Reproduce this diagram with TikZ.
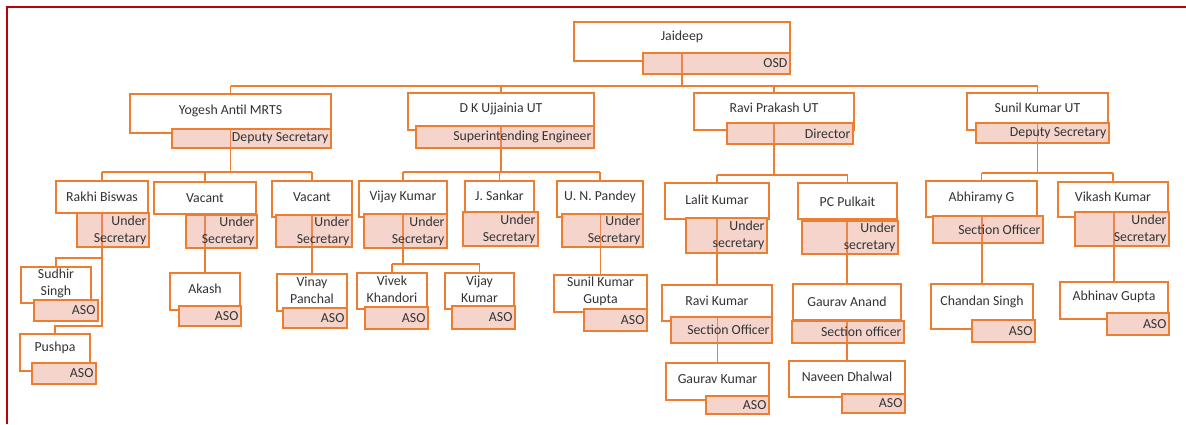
\documentclass[tikz,border=0pt]{standalone}
\usepackage{fontspec}
\setmainfont{Carlito}
\usetikzlibrary{fit,calc}
\definecolor{orgline}{HTML}{ED7D31}
\definecolor{orgfill}{HTML}{E8957D}
\definecolor{orgtext}{HTML}{333333}
\definecolor{frameline}{HTML}{C00000}
\pgfdeclarelayer{links}
\pgfdeclarelayer{over}
\pgfsetlayers{main,links,over}
\tikzset{
  namebox/.style={draw=orgline, fill=white, line width=1.3pt, inner sep=0pt},
  titleunder/.style={fill=white, inner sep=0pt},
  titlebox/.style={draw=orgline, fill=orgfill, fill opacity=0.4, line width=1.3pt, inner sep=0pt},
  orgfont/.style={text=orgtext, font=\fontsize{13.8}{17}\selectfont, inner sep=0pt},
  nametext/.style={orgfont, align=center},
  titletext/.style={orgfont, align=right, anchor=east},
  link/.style={draw=orgline, line width=1.3pt},
  outerframe/.style={draw=frameline, line width=2pt},
}
% #1 id, #2-#5 name box corners, #6-#9 title box corners
\newcommand\person[9]{%
  \node[namebox, fit={(#2,#3) (#4,#5)}] (#1) {};
  \node[titleunder, fit={(#6,#7) (#8,#9)}] (#1T) {};
  \begin{pgfonlayer}{over}
    \node[titlebox, fit={(#6,#7) (#8,#9)}] (#1To) {};
  \end{pgfonlayer}
}
% name text, centred above the title box
\newcommand\nm[2]{%
  \node[nametext] (#1L) at ($(#1.north)!.5!(#1T.north -| #1.north)$) {#2};
}
% title text, right aligned in the title box
\newcommand\ttl[2]{%
  \begin{pgfonlayer}{over}
    \node[titletext] (#1TL) at ([xshift=-3pt]#1To.east) {#2};
  \end{pgfonlayer}
}
\begin{document}
\begin{tikzpicture}[x=1pt,y=-1pt]
\useasboundingbox (0,0) rectangle (1186,424);

% top
\person{jd}{574}{22}{790}{61}{643}{53}{790}{74}
\nm{jd}{Jaideep}\ttl{jd}{OSD}

% first level
\person{yog}{130}{94}{331}{133}{172}{129}{331}{148}
\nm{yog}{Yogesh Antil MRTS}\ttl{yog}{Deputy Secretary}
\person{dk}{408}{93}{594}{130}{416}{126}{594}{148}
\nm{dk}{D K Ujjainia UT}\ttl{dk}{Superintending Engineer}
\person{rp}{694}{93}{854}{130}{727}{123}{853}{144}
\nm{rp}{Ravi Prakash UT}\ttl{rp}{Director}
\person{sk}{967}{93}{1108}{130}{976}{123}{1109}{143}
\nm{sk}{Sunil Kumar UT}\ttl{sk}{Deputy Secretary}

% under Yogesh Antil
\person{rak}{56}{181}{148}{213}{77}{213}{149}{247}
\nm{rak}{Rakhi Biswas}\ttl{rak}{Under\\Secretary}
\person{vca}{154}{182}{256}{214}{186}{215}{257}{248}
\nm{vca}{Vacant}\ttl{vca}{Under\\Secretary}
\person{vcb}{272}{181}{352}{217}{276}{215}{352}{247}
\nm{vcb}{Vacant}\ttl{vcb}{Under\\Secretary}
\person{sud}{21}{267}{91}{303}{34}{300}{98}{321}
\nm{sud}{Sudhir\\Singh}\ttl{sud}{ASO}
\person{pus}{20}{334}{90}{371}{32}{363}{96}{384}
\nm{pus}{Pushpa}\ttl{pus}{ASO}
\person{aka}{170}{273}{240}{310}{179}{306}{241}{326}
\nm{aka}{Akash}\ttl{aka}{ASO}
\person{vin}{277}{274}{347}{311}{283}{308}{347}{328}
\nm{vin}{Vinay\\Panchal}\ttl{vin}{ASO}

% under D K Ujjainia
\person{vk}{359}{181}{447}{217}{364}{214}{447}{248}
\nm{vk}{Vijay Kumar}\ttl{vk}{Under\\Secretary}
\person{js}{465}{181}{534}{212}{463}{212}{538}{246}
\nm{js}{J. Sankar}\ttl{js}{Under\\Secretary}
\person{unp}{557}{181}{643}{217}{562}{214}{643}{247}
\nm{unp}{U. N. Pandey}\ttl{unp}{Under\\Secretary}
\person{viv}{357}{273}{427}{309}{365}{307}{428}{329}
\nm{viv}{Vivek\\Khandori}\ttl{viv}{ASO}
\person{vjb}{445}{273}{514}{309}{452}{306}{515}{329}
\nm{vjb}{Vijay\\Kumar}\ttl{vjb}{ASO}
\person{skg}{554}{275}{647}{312}{584}{309}{647}{331}
\nm{skg}{Sunil Kumar\\Gupta}\ttl{skg}{ASO}

% under Ravi Prakash
\person{lk}{665}{183}{769}{219}{686}{218}{767}{253}
\nm{lk}{Lalit Kumar}\ttl{lk}{Under\\secretary}
\person{pc}{798}{183}{897}{219}{802}{221}{898}{254}
\nm{pc}{PC Pulkait}\ttl{pc}{Under\\secretary}
\person{rk}{662}{285}{772}{321}{671}{317}{772}{343}
\nm{rk}{Ravi Kumar}\ttl{rk}{Section Officer}
\person{gk}{666}{363}{769}{400}{706}{396}{769}{414}
\nm{gk}{Gaurav Kumar}\ttl{gk}{ASO}
\person{ga}{793}{284}{901}{320}{792}{321}{904}{343}
\nm{ga}{Gaurav Anand}\ttl{ga}{Section officer}
\person{nd}{789}{361}{905}{397}{842}{394}{905}{413}
\nm{nd}{Naveen Dhalwal}\ttl{nd}{ASO}

% under Sunil Kumar
\person{ab}{926}{181}{1037}{217}{933}{216}{1043}{243}
\nm{ab}{Abhiramy G}\ttl{ab}{Section Officer}
\person{vik}{1058}{182}{1168}{217}{1075}{212}{1169}{246}
\nm{vik}{Vikash Kumar}\ttl{vik}{Under\\Secretary}
\person{cs}{931}{284}{1033}{329}{972}{320}{1035}{342}
\nm{cs}{Chandan Singh}\ttl{cs}{ASO}
\person{ag}{1060}{282}{1168}{319}{1107}{313}{1169}{335}
\nm{ag}{Abhinav Gupta}\ttl{ag}{ASO}

% heights of the horizontal bars
\coordinate (b0) at (0,86);
\coordinate (b1) at (0,172);
\coordinate (b2) at (0,258);
\coordinate (b3) at (0,326);
\coordinate (b4) at (0,172);
\coordinate (b5) at (0,264);
\coordinate (b6) at (0,175);
\coordinate (b7) at (0,173);

\begin{pgfonlayer}{links}
  \draw[link] (jd.center |- jdT.north) -- (jd.center |- b0);
  \draw[link] (yog.north |- b0) -- (sk.north |- b0);
  \foreach \c in {yog,dk,rp,sk} \draw[link] (\c.north |- b0) -- (\c.north);

  \draw[link] (yog.center |- yogT.north) -- (yog.center |- b1);
  \draw[link] (rak.north |- b1) -- (vcb.north |- b1);
  \foreach \c in {rak,vca,vcb} \draw[link] (\c.north |- b1) -- (\c.north);
  \draw[link] (rak.center |- rakT.north) -- (rak.center |- b3) -- (pus.north |- b3) -- (pus.north);
  \draw[link] (rak.center |- b2) -- (sud.north |- b2) -- (sud.north);
  \draw[link] (aka.north |- vcaT.north) -- (aka.north);
  \draw[link] (vin.north |- vcbT.north) -- (vin.north);

  \draw[link] (dk.center |- dkT.north) -- (dk.center |- b4);
  \draw[link] (vk.north |- b4) -- (unp.north |- b4);
  \foreach \c in {vk,js,unp} \draw[link] (\c.north |- b4) -- (\c.north);
  \draw[link] (vk.center |- vkT.north) -- (vk.center |- b5);
  \draw[link] (viv.north |- b5) -- (vjb.north |- b5);
  \foreach \c in {viv,vjb} \draw[link] (\c.north |- b5) -- (\c.north);
  \draw[link] (skg.north |- unpT.north) -- (skg.north);

  \draw[link] (rp.center |- rpT.north) -- (rp.center |- b6);
  \draw[link] (lk.north |- b6) -- (pc.north |- b6);
  \foreach \c in {lk,pc} \draw[link] (\c.north |- b6) -- (\c.north);
  \draw[link] (rk.north |- lkT.north) -- (rk.north);
  \draw[link] (gk.north |- rkT.north) -- (gk.north);
  \draw[link] (ga.north |- pcT.north) -- (ga.north);
  \draw[link] (nd.north |- gaT.north) -- (nd.north);

  \draw[link] (sk.center |- skT.north) -- (sk.center |- b7);
  \draw[link] (ab.north |- b7) -- (vik.north |- b7);
  \foreach \c in {ab,vik} \draw[link] (\c.north |- b7) -- (\c.north);
  \draw[link] (cs.north |- abT.north) -- (cs.north);
  \draw[link] (ag.north |- vikT.north) -- (ag.north);
\end{pgfonlayer}

% page frame
\coordinate (fa) at (7,424);
\coordinate (fb) at (7,7);
\coordinate (fc) at (1186,7);
\draw[outerframe] (fa) -- (fb) -- (fc);
\end{tikzpicture}
\end{document}
